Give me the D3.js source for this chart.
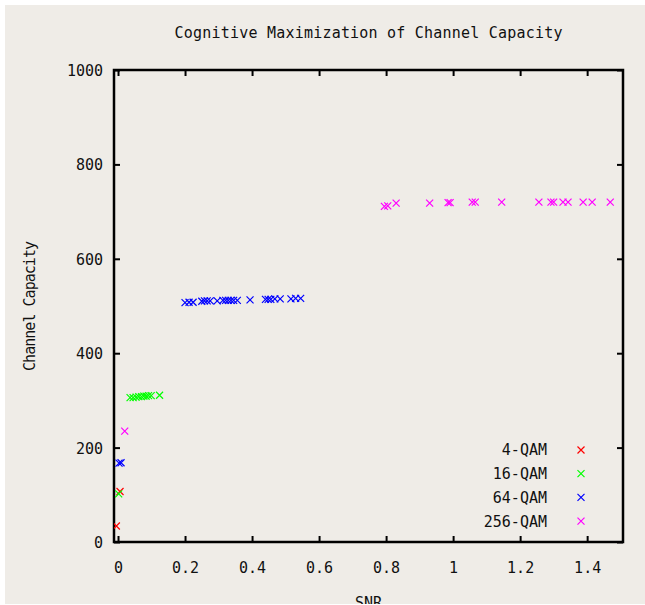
<!DOCTYPE html>
<html>
<head>
<meta charset="utf-8">
<script src="https://cdn.jsdelivr.net/npm/d3@7"></script>
<style>
  body { margin: 0; background: #fff; }
  text { font-family: "DejaVu Sans Mono", monospace; font-size: 15px; fill: #111; }
</style>
</head>
<body>
<div id="chart"></div>
<script>
var W = 645, H = 605;

// series: snr / capacity pairs
var qam4_snr = [-0.005, 0.006];
var qam4_cap = [34, 107];

var qam16_snr = [0.002, 0.036, 0.045, 0.054, 0.062, 0.07, 0.077, 0.084, 0.091, 0.099, 0.124];
var qam16_cap = [102, 306, 306, 307, 308, 308, 309, 309, 310, 310, 311];

var qam64_snr = [0.003, 0.009, 0.2, 0.212, 0.224, 0.25, 0.258, 0.266, 0.275, 0.296, 0.313, 0.321, 0.329, 0.337, 0.345, 0.356, 0.394, 0.44, 0.448, 0.456, 0.468, 0.484, 0.516, 0.53, 0.545];
var qam64_cap = [167, 168, 507, 508, 508, 510, 511, 511, 511, 511, 512, 512, 512, 512, 512, 512, 513, 514, 514, 514, 515, 515, 515, 516, 516];

var qam256_snr = [0.02, 0.795, 0.805, 0.83, 0.93, 0.985, 0.991, 1.057, 1.066, 1.145, 1.256, 1.292, 1.3, 1.328, 1.343, 1.388, 1.415, 1.469];
var qam256_cap = [235, 711, 712, 718, 718, 719, 719, 720, 720, 720, 720, 720, 720, 720, 720, 720, 720, 720];

var series_names = ["4-QAM", "16-QAM", "64-QAM", "256-QAM"];
var series_colors = ["#ff0000", "#00ff00", "#0000ff", "#ff00ff"];
var series_snr = [qam4_snr, qam16_snr, qam64_snr, qam256_snr];
var series_cap = [qam4_cap, qam16_cap, qam64_cap, qam256_cap];

var x_ticks = [0, 0.2, 0.4, 0.6, 0.8, 1, 1.2, 1.4];
var y_ticks = [0, 200, 400, 600, 800, 1000];

var plotLeft = 114, plotRight = 623, plotTop = 70, plotBottom = 542;

var svg = d3.select("#chart").append("svg")
	.attr("width", W)
	.attr("height", H);

svg.append("rect")
	.attr("x", 5).attr("y", 5)
	.attr("width", W - 5).attr("height", H - 6)
	.attr("fill", "#efece7");

var x = d3.scaleLinear().domain([-0.012, 1.507]).range([plotLeft, plotRight]);
var y = d3.scaleLinear().domain([0, 1000]).range([plotBottom, plotTop]);

svg.append("clipPath").attr("id", "plotclip")
	.append("rect")
	.attr("x", plotLeft).attr("y", plotTop)
	.attr("width", plotRight - plotLeft).attr("height", plotBottom - plotTop);

// ticks, all pointing inward
function tickAxis(axis, tx, ty) {
	var g = svg.append("g").attr("transform", "translate(" + tx + "," + ty + ")").call(axis);
	g.select(".domain").remove();
	g.selectAll(".tick line").attr("stroke", "#000").attr("stroke-width", 2);
	return g;
}

var plain = function(d) { return String(d); };

var xb = tickAxis(d3.axisBottom(x).tickValues(x_ticks).tickSize(-6).tickPadding(31).tickFormat(plain), 0, plotBottom);
xb.selectAll("text").attr("dy", "0");
tickAxis(d3.axisTop(x).tickValues(x_ticks).tickSize(-6).tickFormat(""), 0, plotTop);
var yl = tickAxis(d3.axisLeft(y).tickValues(y_ticks).tickSize(-6).tickPadding(11).tickFormat(plain), plotLeft, 0);
tickAxis(d3.axisRight(y).tickValues(y_ticks).tickSize(-6).tickFormat(""), plotRight, 0);

svg.selectAll(".tick text")
	.attr("font-family", "DejaVu Sans Mono")
	.attr("font-size", 15)
	.attr("fill", "#111");
yl.selectAll("text").attr("dy", "0.36em");

// frame
svg.append("rect")
	.attr("x", plotLeft).attr("y", plotTop)
	.attr("width", plotRight - plotLeft).attr("height", plotBottom - plotTop)
	.attr("fill", "none")
	.attr("stroke", "#000")
	.attr("stroke-width", 2.5);

function cross(s) {
	return "M" + (-s) + "," + (-s) + "L" + s + "," + s + "M" + (-s) + "," + s + "L" + s + "," + (-s);
}

var plot = svg.append("g").attr("clip-path", "url(#plotclip)");

series_names.forEach(function(name, i) {
	var pts = series_snr[i].map(function(v, j) { return { snr: v, cap: series_cap[i][j] }; });
	plot.selectAll(".m" + i)
		.data(pts)
		.enter().append("path")
		.attr("class", "m" + i)
		.attr("transform", function(d) { return "translate(" + x(d.snr) + "," + y(d.cap) + ")"; })
		.attr("d", cross(3.5))
		.attr("fill", "none")
		.attr("stroke", series_colors[i])
		.attr("stroke-width", 1.2);
});

// legend
var leg = svg.append("g");
series_names.forEach(function(name, i) {
	var ly = 450 + i * 23.7;
	leg.append("text")
		.attr("x", 547).attr("y", ly)
		.attr("dy", "0.36em")
		.attr("text-anchor", "end")
		.text(name);
	leg.append("path")
		.attr("transform", "translate(581," + ly + ")")
		.attr("d", cross(3.5))
		.attr("fill", "none")
		.attr("stroke", series_colors[i])
		.attr("stroke-width", 1.2);
});

svg.append("text")
	.attr("x", (plotLeft + plotRight) / 2).attr("y", 38)
	.attr("text-anchor", "middle")
	.attr("textLength", 388)
	.text("Cognitive Maximization of Channel Capacity");

svg.append("text")
	.attr("transform", "translate(35,306) rotate(-90)")
	.attr("text-anchor", "middle")
	.attr("textLength", 130)
	.text("Channel Capacity");

svg.append("text")
	.attr("x", (plotLeft + plotRight) / 2).attr("y", 608)
	.attr("text-anchor", "middle")
	.text("SNR");

// white strip along the bottom edge as in the picture
svg.append("rect").attr("x", 0).attr("y", H - 1).attr("width", W).attr("height", 1).attr("fill", "#fff");
</script>
</body>
</html>
